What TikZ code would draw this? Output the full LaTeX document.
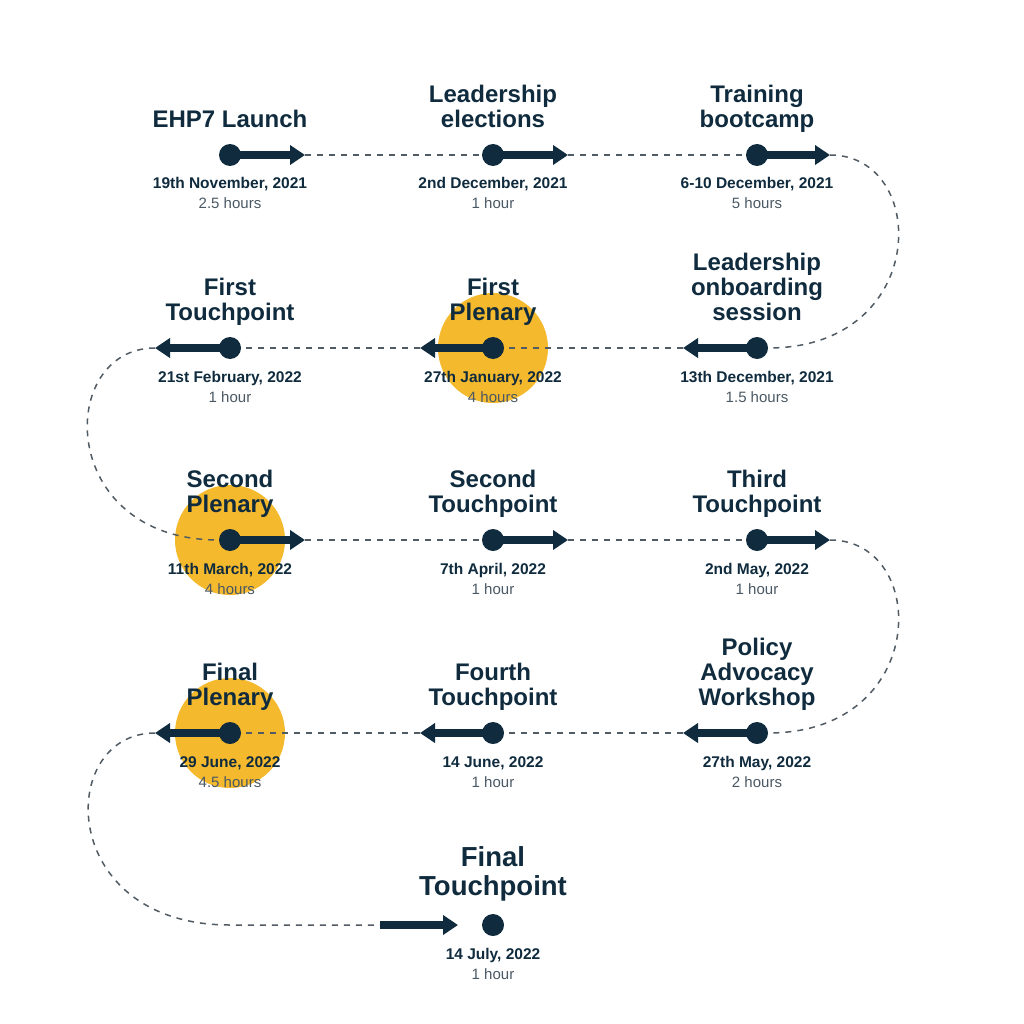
\documentclass[tikz,border=0pt]{standalone}
\usepackage{fontspec}
\setmainfont{Liberation Sans}
\usetikzlibrary{arrows.meta}
\definecolor{navy}{HTML}{0F2B3D}
\definecolor{sun}{HTML}{F5B92E}
\definecolor{trailgray}{HTML}{515B63}
\definecolor{hourgray}{HTML}{4A5863}

\tikzset{
	dot/.style={circle, fill=navy, inner sep=0pt, minimum size=22pt},
	arr/.style={draw=navy, line width=8pt, -{Triangle[width=19pt,length=15pt]}},
	trail/.style={draw=trailgray, line width=1.5pt, dash pattern=on 6pt off 6pt},
	title/.style={text=navy, font=\bfseries\fontsize{24}{25}\selectfont, align=center,
		anchor=south, inner sep=0pt, text depth=0pt},
	date/.style={text=navy, font=\bfseries\fontsize{15.5}{16}\selectfont, anchor=base, inner sep=0pt},
	hrs/.style={text=hourgray, font=\fontsize{15}{16}\selectfont, anchor=base, inner sep=0pt}
}

\begin{document}
\begin{tikzpicture}[x=1pt,y=-1pt]
	\useasboundingbox (0,0) rectangle (1024,1024);

	% plenary highlights
	\fill[sun] (493,348) circle (55pt);
	\fill[sun] (230,540) circle (55pt);
	\fill[sun] (230,733) circle (55pt);

	\node[dot] (p1) at (230,155) {};
	\node[dot] (p2) at (493,155) {};
	\node[dot] (p3) at (757,155) {};
	\node[dot] (p4) at (757,348) {};
	\node[dot] (p5) at (493,348) {};
	\node[dot] (p6) at (230,348) {};
	\node[dot] (p7) at (230,540) {};
	\node[dot] (p8) at (493,540) {};
	\node[dot] (p9) at (757,540) {};
	\node[dot] (p10) at (757,733) {};
	\node[dot] (p11) at (493,733) {};
	\node[dot] (p12) at (230,733) {};
	\node[dot] (p13) at (493,925) {};

	\coordinate (a1) at (305,155);
	\coordinate (a2) at (568,155);
	\coordinate (a3) at (830,155);
	\coordinate (a4) at (683,348);
	\coordinate (a5) at (420,348);
	\coordinate (a6) at (155,348);
	\coordinate (a7) at (305,540);
	\coordinate (a8) at (568,540);
	\coordinate (a9) at (830,540);
	\coordinate (a10) at (683,733);
	\coordinate (a11) at (420,733);
	\coordinate (a12) at (155,733);
	\coordinate (b13) at (380,925);
	\coordinate (a13) at (458,925);

	\node[title] (n1) at (230,128) {EHP7 Launch};
	\node[title] (n2) at (493,128) {Leadership\\elections};
	\node[title] (n3) at (757,128) {Training\\bootcamp};
	\node[title] (n4) at (757,321) {Leadership\\onboarding\\session};
	\node[title] (n5) at (493,321) {First\\Plenary};
	\node[title] (n6) at (230,321) {First\\Touchpoint};
	\node[title] (n7) at (230,513) {Second\\Plenary};
	\node[title] (n8) at (493,513) {Second\\Touchpoint};
	\node[title] (n9) at (757,513) {Third\\Touchpoint};
	\node[title] (n10) at (757,706) {Policy\\Advocacy\\Workshop};
	\node[title] (n11) at (493,706) {Fourth\\Touchpoint};
	\node[title] (n12) at (230,706) {Final\\Plenary};
	\node[title, font=\bfseries\fontsize{27.5}{29}\selectfont] (n13) at (493,896) {Final\\Touchpoint};

	\node[date] (d1) at (230,189) {19th November, 2021};
	\node[date] (d2) at (493,189) {2nd December, 2021};
	\node[date] (d3) at (757,189) {6-10 December, 2021};
	\node[date] (d4) at (757,382) {13th December, 2021};
	\node[date] (d5) at (493,382) {27th January, 2022};
	\node[date] (d6) at (230,382) {21st February, 2022};
	\node[date] (d7) at (230,574) {11th March, 2022};
	\node[date] (d8) at (493,574) {7th April, 2022};
	\node[date] (d9) at (757,574) {2nd May, 2022};
	\node[date] (d10) at (757,767) {27th May, 2022};
	\node[date] (d11) at (493,767) {14 June, 2022};
	\node[date] (d12) at (230,767) {29 June, 2022};
	\node[date] (d13) at (493,959) {14 July, 2022};

	\node[hrs] (h1) at (230,209) {2.5 hours};
	\node[hrs] (h2) at (493,209) {1 hour};
	\node[hrs] (h3) at (757,209) {5 hours};
	\node[hrs] (h4) at (757,402) {1.5 hours};
	\node[hrs] (h5) at (493,402) {4 hours};
	\node[hrs] (h6) at (230,402) {1 hour};
	\node[hrs] (h7) at (230,594) {4 hours};
	\node[hrs] (h8) at (493,594) {1 hour};
	\node[hrs] (h9) at (757,594) {1 hour};
	\node[hrs] (h10) at (757,787) {2 hours};
	\node[hrs] (h11) at (493,787) {1 hour};
	\node[hrs] (h12) at (230,787) {4.5 hours};
	\node[hrs] (h13) at (493,979) {1 hour};

	% dashed trail between the stops
	\begin{scope}[every path/.style={trail}]
		\draw (a1) -- (p2);
		\draw (a2) -- (p3);
		\draw (a3) .. controls (930,155) and (930,348) .. (p4);
		\draw (a4) -- (p5);
		\draw (a5) -- (p6);
		\draw (a6) .. controls (56,348) and (56,540) .. (p7);
		\draw (a7) -- (p8);
		\draw (a8) -- (p9);
		\draw (a9) .. controls (930,540) and (930,733) .. (p10);
		\draw (a10) -- (p11);
		\draw (a11) -- (p12);
		\draw (a12) .. controls (56,733) and (56,925) .. (230,925) -- (b13);
	\end{scope}

	\begin{scope}[every path/.style={arr}]
		\draw (p1.center) -- (a1);
		\draw (p2.center) -- (a2);
		\draw (p3.center) -- (a3);
		\draw (p4.center) -- (a4);
		\draw (p5.center) -- (a5);
		\draw (p6.center) -- (a6);
		\draw (p7.center) -- (a7);
		\draw (p8.center) -- (a8);
		\draw (p9.center) -- (a9);
		\draw (p10.center) -- (a10);
		\draw (p11.center) -- (a11);
		\draw (p12.center) -- (a12);
		\draw (b13) -- (a13);
	\end{scope}
\end{tikzpicture}
\end{document}
